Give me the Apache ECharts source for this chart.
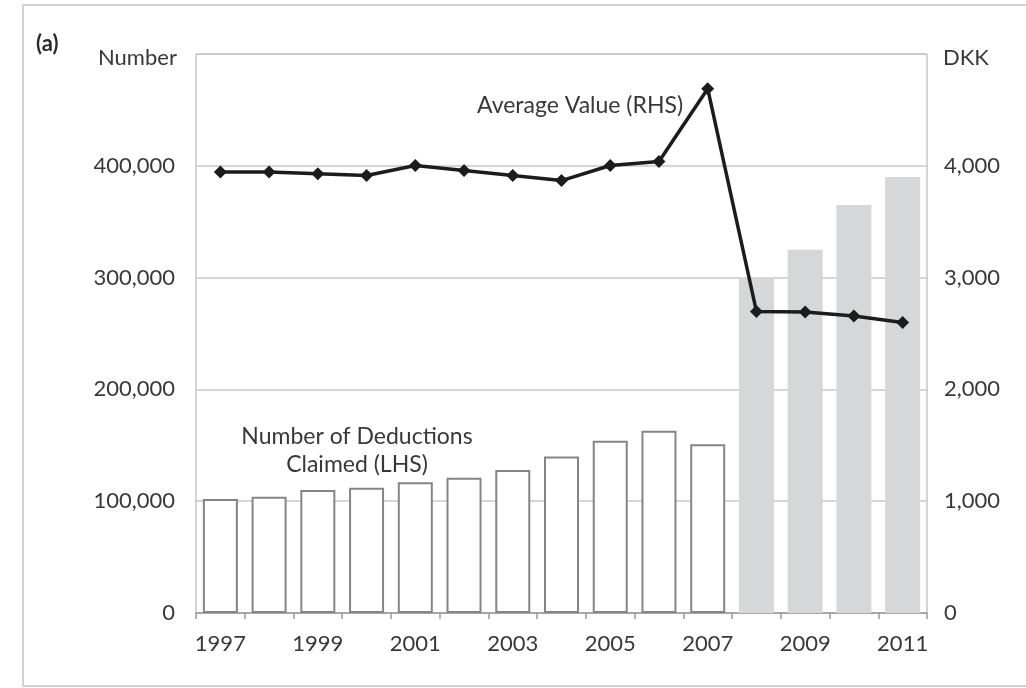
<!DOCTYPE html>
<html>
<head>
<meta charset="utf-8">
<script src="https://cdn.jsdelivr.net/npm/echarts@6/dist/echarts.min.js"></script>
<style>
  html, body { margin: 0; padding: 0; background: #ffffff; }
  #chart { width: 1026px; height: 688px; }
</style>
</head>
<body>
<div id="chart"></div>
<script>
// Years on the category axis
const years = ['1997','1998','1999','2000','2001','2002','2003','2004','2005','2006','2007','2008','2009','2010','2011'];
// Number of deductions claimed (left axis)
const deductions = [102000, 104000, 110000, 112000, 117000, 121000, 128000, 140000, 154000, 163000, 151000, 300000, 325000, 365000, 390000];
// Average value of a deduction in DKK (right axis)
const avgValue = [3945, 3945, 3928, 3913, 4003, 3958, 3913, 3868, 4003, 4039, 4690, 2697, 2693, 2657, 2598];
// Years from which bars are drawn shaded
const shadedFrom = '2008';

const FONT = 'Lato, "Open Sans", sans-serif';
const TEXT = '#383838';
const fmt = v => v.toLocaleString('en-US');

const barData = deductions.map((v, i) => {
  const shaded = years[i] >= shadedFrom;
  return {
    value: v,
    itemStyle: shaded
      ? { color: '#d6d7d9', borderWidth: 0 }
      : { color: '#ffffff', borderColor: '#858585', borderWidth: 2 }
  };
});

const chart = echarts.init(document.getElementById('chart'), null, { renderer: 'canvas' });

chart.setOption({
  animation: false,
  backgroundColor: '#ffffff',
  grid: {
    left: 196, right: 99, top: 54, bottom: 75,
    show: true, borderColor: '#ababab', borderWidth: 1
  },
  xAxis: {
    type: 'category',
    data: years,
    boundaryGap: true,
    axisLine: { show: true, lineStyle: { color: '#9a9a9a', width: 1.5 } },
    axisTick: { show: true, length: 6, interval: 0, lineStyle: { color: '#9a9a9a', width: 1.5 } },
    axisLabel: { interval: 1, margin: 20, fontFamily: FONT, fontSize: 22, color: TEXT },
    splitLine: { show: false }
  },
  yAxis: [
    {
      type: 'value', min: 0, max: 500000, interval: 100000,
      axisLine: { show: false }, axisTick: { show: false },
      axisLabel: {
        margin: 21, fontFamily: FONT, fontSize: 22, color: TEXT,
        formatter: v => (v >= 500000 ? '' : fmt(v))
      },
      splitLine: { show: true, lineStyle: { color: '#c9c9c9', width: 1.5 } }
    },
    {
      type: 'value', min: 0, max: 5000, interval: 1000,
      axisLine: { show: false }, axisTick: { show: false },
      axisLabel: {
        margin: 17, fontFamily: FONT, fontSize: 22, color: TEXT,
        formatter: v => (v >= 5000 ? '' : fmt(v))
      },
      splitLine: { show: false }
    }
  ],
  series: [
    {
      name: 'Number of Deductions Claimed (LHS)',
      type: 'bar',
      yAxisIndex: 0,
      barWidth: 35,
      data: barData,
      z: 2
    },
    {
      name: 'Average Value (RHS)',
      type: 'line',
      yAxisIndex: 1,
      data: avgValue,
      symbol: 'diamond',
      symbolSize: 13,
      lineStyle: { color: '#1c1c1c', width: 3.5 },
      itemStyle: { color: '#1c1c1c' },
      z: 5
    }
  ],
  graphic: [
    {
      type: 'rect', silent: true, z: -1,
      shape: { x: 23, y: 5, width: 1010, height: 681 },
      style: { fill: 'none', stroke: '#d2d2d2', lineWidth: 2 }
    },
    {
      type: 'text', left: 36, top: 33,
      style: { text: '(a)', font: 'bold 22px ' + FONT, fill: '#2a2a2a' }
    },
    {
      type: 'text', left: 98, top: 47,
      style: { text: 'Number', font: '22px ' + FONT, fill: TEXT }
    },
    {
      type: 'text', left: 943, top: 47,
      style: { text: 'DKK', font: '22px ' + FONT, fill: TEXT }
    },
    {
      type: 'text', left: 477, top: 94,
      style: { text: 'Average Value (RHS)', font: '23px ' + FONT, fill: TEXT }
    },
    {
      type: 'text', x: 357, y: 423,
      style: {
        text: 'Number of Deductions\nClaimed (LHS)', font: '23px ' + FONT, fill: TEXT,
        align: 'center', lineHeight: 28
      }
    }
  ]
});
</script>
</body>
</html>
